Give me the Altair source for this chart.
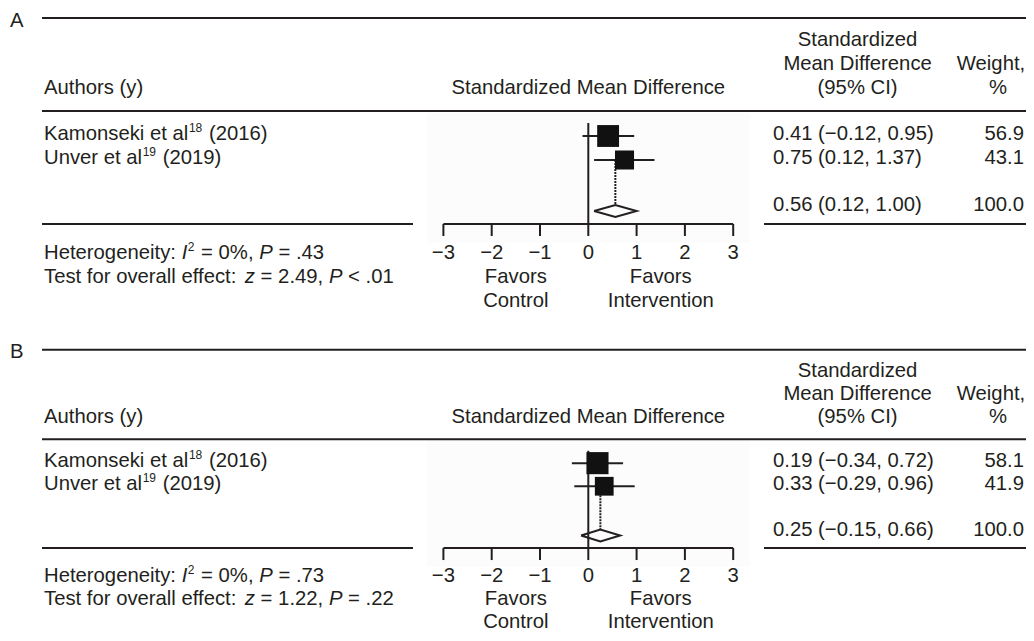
import altair as alt
import pandas as pd

# ---------------- data ----------------
panels = ["A", "B"]
studies = ["Kamonseki et al", "Unver et al"]
study_refs = ["18", "19"]
study_years = ["2016", "2019"]

smd_A = [0.41, 0.75]
low_A = [-0.12, 0.12]
high_A = [0.95, 1.37]
weight_A = [56.9, 43.1]
pooled_A = [0.56, 0.12, 1.00]          # estimate, low, high

smd_B = [0.19, 0.33]
low_B = [-0.34, -0.29]
high_B = [0.72, 0.96]
weight_B = [58.1, 41.9]
pooled_B = [0.25, -0.15, 0.66]

het_i2 = ["0%", "0%"]
het_p = [".43", ".73"]
z_overall = ["2.49", "1.22"]
p_overall = ["< .01", "= .22"]

axis_ticks = [-3, -2, -1, 0, 1, 2, 3]
favors_pos = [-1.5, 1.5]
favors_lines = [["Favors", "Control"], ["Favors", "Intervention"]]

# ---------------- layout / style ----------------
W, H = 1018, 625
PANEL_TOP = {"A": 0, "B": 332}
PANEL_SCALE = {"A": 1.0, "B": (H - 5 - 332) / 299.0}
FONT = "Liberation Sans"
INK = "#231f20"
FS, SUP_FS = 20.3, 12
SMD_RANGE = [435.4, 725.2]

# Arial-compatible advance widths (per 1000 em) for placing mixed-style text runs
ADV = {" ": 278, "%": 889, "(": 333, ")": 333, ",": 278, ".": 278, ":": 278,
       "<": 584, "=": 584, "\u2212": 584, "-": 333}
for c in "0123456789":
    ADV[c] = 556
ADV.update(dict(zip("ABCDEFGHIJKLMNOPQRSTUVWXYZ",
                    [667, 667, 722, 722, 667, 611, 778, 722, 278, 500, 667, 556, 833,
                     722, 778, 667, 778, 722, 667, 611, 722, 667, 944, 667, 667, 611])))
ADV.update(dict(zip("abcdefghijklmnopqrstuvwxyz",
                    [556, 556, 500, 556, 556, 278, 556, 556, 222, 222, 500, 222, 833,
                     556, 556, 556, 556, 333, 500, 278, 556, 500, 722, 500, 500, 500])))


def tw(s, size):
    return sum(ADV.get(c, 556) for c in s) * size / 1000.0


def fmt(v):
    return f"{v:.2f}".replace("-", "\u2212")


texts = []   # pixel-positioned text runs


def add_text(px, y, text, fs=FS, italic=False, align="left"):
    texts.append(dict(px=px, y=y, text=text, fs=fs, it=italic, al=align))


def add_runs(x0, y, runs):
    x = x0
    for run, kind in runs:
        size = SUP_FS if kind == "sup" else FS
        lead = len(run) - len(run.lstrip(" "))
        body = run.strip(" ")
        if kind == "sup":
            add_text(x + 0.5, y - 8, body, fs=SUP_FS)
            x += tw(run, size) + 1.5
        else:
            add_text(x + tw(" " * lead, size), y, body, italic=(kind == "it"))
            x += tw(run, size)


rules_px, bg_rows = [], []
study_rows, dash_rows, diamond_rows, zero_rows = [], [], [], []
axis_rows, tick_rows, smd_text = [], [], []

data_by_panel = {
    "A": (smd_A, low_A, high_A, weight_A, pooled_A),
    "B": (smd_B, low_B, high_B, weight_B, pooled_B),
}

for k, p in enumerate(panels):
    def Y(rel, p=p):
        return PANEL_TOP[p] + rel * PANEL_SCALE[p]

    est, lo, hi, wt, pool = data_by_panel[p]
    row_base = [Y(132), Y(156)]
    sum_base = Y(203)
    axis_y = Y(216)

    # panel letter and table rules
    add_text(2, Y(18.5), p)
    rules_px += [dict(x1=34, x2=W, y=Y(10)), dict(x1=34, x2=W, y=Y(103)),
                 dict(x1=34, x2=405, y=axis_y), dict(x1=756, x2=W, y=axis_y)]
    bg_rows.append(dict(x1=419, x2=742, y1=Y(105), y2=Y(235)))

    # headers
    add_text(36, Y(86), "Authors (y)")
    smd_text.append(dict(x=0, y=Y(86), text="Standardized Mean Difference"))
    for line, yy in zip(["Standardized", "Mean Difference", "(95% CI)"], [38, 62, 86]):
        add_text(849.6, Y(yy), line, align="center")
    add_text(983, Y(62), "Weight,", align="center")
    add_text(990, Y(86), "%", align="center")

    # study rows
    for i in range(len(studies)):
        add_runs(36, row_base[i], [(studies[i], "n"), (study_refs[i], "sup"),
                                   (f" ({study_years[i]})", "n")])
        add_text(765, row_base[i], f"{fmt(est[i])} ({fmt(lo[i])}, {fmt(hi[i])})")
        add_text(1016, row_base[i], f"{wt[i]:.1f}", align="right")
        study_rows.append(dict(panel=p, smd=est[i], lo=lo[i], hi=hi[i], w=wt[i],
                               y=row_base[i] - 4))
    # pooled row
    add_text(765, sum_base, f"{fmt(pool[0])} ({fmt(pool[1])}, {fmt(pool[2])})")
    add_text(1016, sum_base, f"{sum(wt):.1f}", align="right")
    half = 6
    for j, (xv, yv) in enumerate([(pool[1], sum_base), (pool[0], sum_base - half),
                                  (pool[2], sum_base), (pool[0], sum_base + half),
                                  (pool[1], sum_base)]):
        diamond_rows.append(dict(panel=p, smd=xv, y=yv, ord=j))
    dash_rows.append(dict(panel=p, smd=pool[0], y1=row_base[-1] - 4, y2=sum_base - half))
    zero_rows.append(dict(panel=p, smd=0, y1=Y(115), y2=axis_y))

    # axis
    axis_rows.append(dict(panel=p, a=min(axis_ticks), b=max(axis_ticks), y=axis_y))
    for t in axis_ticks:
        tick_rows.append(dict(panel=p, smd=t, y1=axis_y, y2=axis_y + 12))
        smd_text.append(dict(x=t, y=Y(251), text=str(t).replace("-", "\u2212")))
    for xpos, lines in zip(favors_pos, favors_lines):
        smd_text.append(dict(x=xpos, y=Y(275), text=lines[0]))
        smd_text.append(dict(x=xpos, y=Y(299), text=lines[1]))

    # statistics
    add_runs(36, Y(251), [("Heterogeneity: ", "n"), ("I", "it"), ("2", "sup"),
                          (f" = {het_i2[k]}, ", "n"), ("P", "it"), (f" = {het_p[k]}", "n")])
    add_runs(36, Y(275), [("Test for overall effect: ", "n"), ("z", "it"),
                          (f" = {z_overall[k]}, ", "n"), ("P", "it"), (f" {p_overall[k]}", "n")])


def xs():
    return alt.Scale(domain=[min(axis_ticks), max(axis_ticks)], range=SMD_RANGE)


PX = dict(scale=None, axis=None)

layers = []
layers.append(alt.Chart(pd.DataFrame(bg_rows)).mark_rect(color="#fcfcfc").encode(
    x=alt.X("x1:Q", **PX), x2="x2:Q", y=alt.Y("y1:Q", **PX), y2="y2:Q"))
layers.append(alt.Chart(pd.DataFrame(rules_px)).mark_rule(color=INK, strokeWidth=2).encode(
    x=alt.X("x1:Q", **PX), x2="x2:Q", y=alt.Y("y:Q", **PX)))
layers.append(alt.Chart(pd.DataFrame(zero_rows)).mark_rule(color=INK, strokeWidth=2).encode(
    x=alt.X("smd:Q", scale=xs(), axis=None), y=alt.Y("y1:Q", **PX), y2="y2:Q"))
layers.append(alt.Chart(pd.DataFrame(dash_rows)).mark_rule(
    color=INK, strokeWidth=2, strokeDash=[2, 1]).encode(
    x=alt.X("smd:Q", scale=xs(), axis=None), y=alt.Y("y1:Q", **PX), y2="y2:Q"))
layers.append(alt.Chart(pd.DataFrame(study_rows)).mark_rule(color=INK, strokeWidth=2).encode(
    x=alt.X("lo:Q", scale=xs(), axis=None), x2="hi:Q", y=alt.Y("y:Q", **PX)))
layers.append(alt.Chart(pd.DataFrame(study_rows)).mark_point(
    shape="square", filled=True, opacity=1, color="#111111").encode(
    x=alt.X("smd:Q", scale=xs(), axis=None), y=alt.Y("y:Q", **PX),
    size=alt.Size("w:Q", scale=alt.Scale(domain=[0, 100], range=[0, 840]), legend=None)))
layers.append(alt.Chart(pd.DataFrame(diamond_rows)).mark_line(color=INK, strokeWidth=2).encode(
    x=alt.X("smd:Q", scale=xs(), axis=None), y=alt.Y("y:Q", **PX),
    order="ord:Q", detail="panel:N"))
layers.append(alt.Chart(pd.DataFrame(axis_rows)).mark_rule(color=INK, strokeWidth=2).encode(
    x=alt.X("a:Q", scale=xs(), axis=None), x2="b:Q", y=alt.Y("y:Q", **PX)))
layers.append(alt.Chart(pd.DataFrame(tick_rows)).mark_rule(color=INK, strokeWidth=2).encode(
    x=alt.X("smd:Q", scale=xs(), axis=None), y=alt.Y("y1:Q", **PX), y2="y2:Q"))
layers.append(alt.Chart(pd.DataFrame(smd_text)).mark_text(
    font=FONT, fontSize=FS, color=INK, align="center", baseline="alphabetic").encode(
    x=alt.X("x:Q", scale=xs(), axis=None), y=alt.Y("y:Q", **PX), text="text:N"))

tdf = pd.DataFrame(texts)
for (fs, it, al), g in tdf.groupby(["fs", "it", "al"]):
    layers.append(alt.Chart(g.reset_index(drop=True)).mark_text(
        font=FONT, fontSize=float(fs), color=INK, align=al, baseline="alphabetic",
        fontStyle="italic" if it else "normal").encode(
        x=alt.X("px:Q", **PX), y=alt.Y("y:Q", **PX), text="text:N"))

chart = alt.layer(*layers).resolve_scale(x="independent", y="independent").properties(
    width=W, height=H, padding=0,
    autosize=alt.AutoSizeParams(type="none"),
    background="white",
).configure_view(stroke=None)

chart.save("out.html", embed_options={"renderer": "svg", "actions": False})
